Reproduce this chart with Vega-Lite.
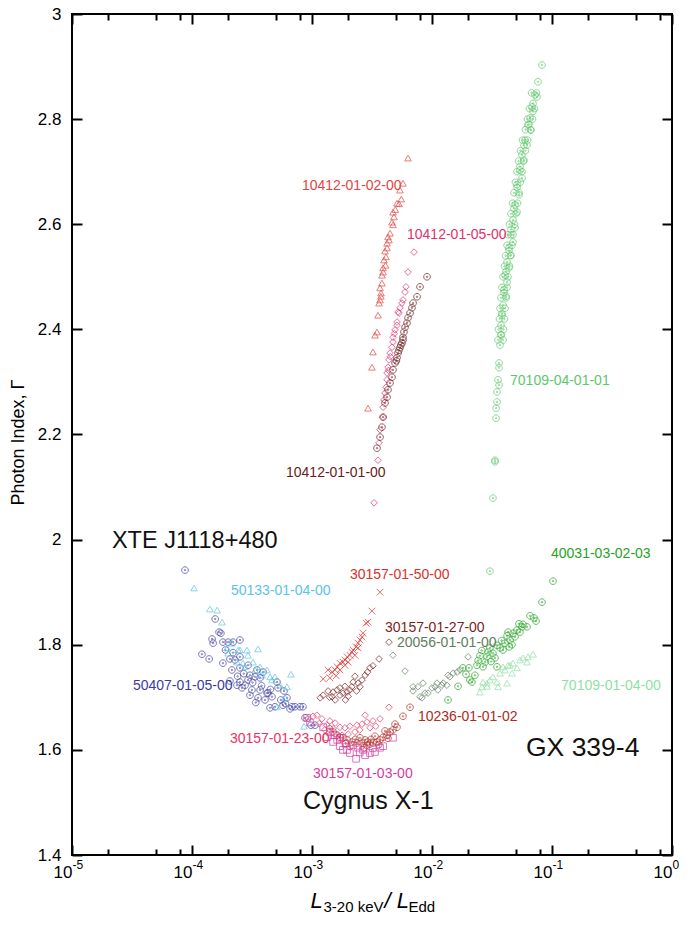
{
  "$schema": "https://vega.github.io/schema/vega-lite/v6.json",
  "width": 600,
  "height": 841,
  "autosize": {"type": "none"},
  "padding": {"left": 72, "top": 14, "right": 16, "bottom": 70},
  "config": {
    "view": {"stroke": "#000000", "strokeWidth": 2},
    "font": "Liberation Sans",
    "axis": {"labelFont": "Liberation Sans", "titleFont": "Liberation Sans", "labelColor": "#000000", "titleColor": "#000000", "tickColor": "#000000", "grid": false, "domain": false, "titleFontWeight": "normal"}
  },
  "datasets": {
    "pts": [
      {"series":"50407-01-05-00","L":8.74e-5,"G":1.942},{"series":"50407-01-05-00","L":1.56e-4,"G":1.849},{"series":"50407-01-05-00","L":1.68e-4,"G":1.824},{"series":"50407-01-05-00","L":1.74e-4,"G":1.822},{"series":"50407-01-05-00","L":1.47e-4,"G":1.811},{"series":"50407-01-05-00","L":1.50e-4,"G":1.803},{"series":"50407-01-05-00","L":1.81e-4,"G":1.805},{"series":"50407-01-05-00","L":2.00e-4,"G":1.805},{"series":"50407-01-05-00","L":2.20e-4,"G":1.805},{"series":"50407-01-05-00","L":2.51e-4,"G":1.809},{"series":"50407-01-05-00","L":1.21e-4,"G":1.782},{"series":"50407-01-05-00","L":1.39e-4,"G":1.773},{"series":"50407-01-05-00","L":1.81e-4,"G":1.765},{"series":"50407-01-05-00","L":2.07e-4,"G":1.773},{"series":"50407-01-05-00","L":2.51e-4,"G":1.777},{"series":"50407-01-05-00","L":2.15e-4,"G":1.752},{"series":"50407-01-05-00","L":2.51e-4,"G":1.756},{"series":"50407-01-05-00","L":2.93e-4,"G":1.761},{"series":"50407-01-05-00","L":3.48e-4,"G":1.752},{"series":"50407-01-05-00","L":2.07e-4,"G":1.731},{"series":"50407-01-05-00","L":2.37e-4,"G":1.723},{"series":"50407-01-05-00","L":2.61e-4,"G":1.718},{"series":"50407-01-05-00","L":2.51e-4,"G":1.729},{"series":"50407-01-05-00","L":3.04e-4,"G":1.704},{"series":"50407-01-05-00","L":3.55e-4,"G":1.699},{"series":"50407-01-05-00","L":3.69e-4,"G":1.714},{"series":"50407-01-05-00","L":4.22e-4,"G":1.708},{"series":"50407-01-05-00","L":4.64e-4,"G":1.701},{"series":"50407-01-05-00","L":4.47e-4,"G":1.680},{"series":"50407-01-05-00","L":4.92e-4,"G":1.682},{"series":"50407-01-05-00","L":5.73e-4,"G":1.685},{"series":"50407-01-05-00","L":6.19e-4,"G":1.699},{"series":"50407-01-05-00","L":6.56e-4,"G":1.678},{"series":"50407-01-05-00","L":7.22e-4,"G":1.682},{"series":"50407-01-05-00","L":7.94e-4,"G":1.682},{"series":"50407-01-05-00","L":8.41e-4,"G":1.682},{"series":"50407-01-05-00","L":4.30e-4,"G":1.708},{"series":"50407-01-05-00","L":3.69e-4,"G":1.737},{"series":"50407-01-05-00","L":3.91e-4,"G":1.748},{"series":"50407-01-05-00","L":3.35e-4,"G":1.739},{"series":"50407-01-05-00","L":2.93e-4,"G":1.733},{"series":"50407-01-05-00","L":2.77e-4,"G":1.723},{"series":"50407-01-05-00","L":5.11e-4,"G":1.729},{"series":"50407-01-05-00","L":5.21e-4,"G":1.718},{"series":"50407-01-05-00","L":5.84e-4,"G":1.712},{"series":"50407-01-05-00","L":6.81e-4,"G":1.682},{"series":"50407-01-05-00","L":8.74e-4,"G":1.661},{"series":"50407-01-05-00","L":9.81e-4,"G":1.647},{"series":"50407-01-05-00","L":1.06e-3,"G":1.647},{"series":"50407-01-05-00","L":3.04e-4,"G":1.742},{"series":"50407-01-05-00","L":2.28e-4,"G":1.771},{"series":"50407-01-05-00","L":3.16e-4,"G":1.714},{"series":"50407-01-05-00","L":4.06e-4,"G":1.695},{"series":"50407-01-05-00","L":2.7e-4,"G":1.745},{"series":"50407-01-05-00","L":3.2e-4,"G":1.728},{"series":"50407-01-05-00","L":3.8e-4,"G":1.722},{"series":"50407-01-05-00","L":4.5e-4,"G":1.715},{"series":"50407-01-05-00","L":2.2e-4,"G":1.785},{"series":"50407-01-05-00","L":1.9e-4,"G":1.790},{"series":"50407-01-05-00","L":5.5e-4,"G":1.695},{"series":"50407-01-05-00","L":6.0e-4,"G":1.688},{"series":"50407-01-05-00","L":3.4e-4,"G":1.690},{"series":"50407-01-05-00","L":2.4e-4,"G":1.740},
      {"series":"50133-01-04-00","L":1.04e-4,"G":1.908},{"series":"50133-01-04-00","L":1.41e-4,"G":1.868},{"series":"50133-01-04-00","L":1.62e-4,"G":1.866},{"series":"50133-01-04-00","L":1.78e-4,"G":1.843},{"series":"50133-01-04-00","L":1.96e-4,"G":1.794},{"series":"50133-01-04-00","L":2.15e-4,"G":1.803},{"series":"50133-01-04-00","L":2.51e-4,"G":1.790},{"series":"50133-01-04-00","L":2.87e-4,"G":1.790},{"series":"50133-01-04-00","L":2.93e-4,"G":1.780},{"series":"50133-01-04-00","L":3.55e-4,"G":1.792},{"series":"50133-01-04-00","L":2.37e-4,"G":1.767},{"series":"50133-01-04-00","L":2.66e-4,"G":1.765},{"series":"50133-01-04-00","L":3.22e-4,"G":1.767},{"series":"50133-01-04-00","L":3.69e-4,"G":1.758},{"series":"50133-01-04-00","L":4.22e-4,"G":1.752},{"series":"50133-01-04-00","L":4.47e-4,"G":1.739},{"series":"50133-01-04-00","L":4.92e-4,"G":1.739},{"series":"50133-01-04-00","L":5.41e-4,"G":1.723},{"series":"50133-01-04-00","L":6.19e-4,"G":1.720},{"series":"50133-01-04-00","L":6.68e-4,"G":1.744},{"series":"50133-01-04-00","L":5.96e-4,"G":1.699},{"series":"50133-01-04-00","L":5.11e-4,"G":1.682},{"series":"50133-01-04-00","L":8.58e-4,"G":1.645},{"series":"50133-01-04-00","L":2.77e-4,"G":1.758},{"series":"50133-01-04-00","L":3.35e-4,"G":1.752},{"series":"50133-01-04-00","L":3.83e-4,"G":1.742},{"series":"50133-01-04-00","L":4.64e-4,"G":1.733},{"series":"50133-01-04-00","L":2.00e-4,"G":1.784},{"series":"50133-01-04-00","L":2.42e-4,"G":1.790},
      {"series":"30157-01-50-00","L":3.69e-3,"G":1.900},{"series":"30157-01-50-00","L":3.16e-3,"G":1.864},{"series":"30157-01-50-00","L":2.93e-3,"G":1.843},{"series":"30157-01-50-00","L":2.82e-3,"G":1.841},{"series":"30157-01-50-00","L":2.66e-3,"G":1.822},{"series":"30157-01-50-00","L":2.61e-3,"G":1.815},{"series":"30157-01-50-00","L":2.51e-3,"G":1.809},{"series":"30157-01-50-00","L":2.42e-3,"G":1.803},{"series":"30157-01-50-00","L":2.33e-3,"G":1.796},{"series":"30157-01-50-00","L":2.20e-3,"G":1.790},{"series":"30157-01-50-00","L":2.15e-3,"G":1.786},{"series":"30157-01-50-00","L":2.07e-3,"G":1.780},{"series":"30157-01-50-00","L":1.96e-3,"G":1.777},{"series":"30157-01-50-00","L":1.88e-3,"G":1.771},{"series":"30157-01-50-00","L":1.81e-3,"G":1.767},{"series":"30157-01-50-00","L":1.71e-3,"G":1.765},{"series":"30157-01-50-00","L":1.62e-3,"G":1.758},{"series":"30157-01-50-00","L":1.56e-3,"G":1.752},{"series":"30157-01-50-00","L":1.47e-3,"G":1.748},{"series":"30157-01-50-00","L":1.36e-3,"G":1.752},{"series":"30157-01-50-00","L":1.41e-3,"G":1.737},{"series":"30157-01-50-00","L":1.24e-3,"G":1.735},{"series":"30157-01-50-00","L":1.71e-3,"G":1.752},{"series":"30157-01-50-00","L":1.88e-3,"G":1.761},{"series":"30157-01-50-00","L":2.00e-3,"G":1.767},{"series":"30157-01-50-00","L":2.28e-3,"G":1.780},{"series":"30157-01-50-00","L":2.42e-3,"G":1.794},{"series":"30157-01-50-00","L":1.59e-3,"G":1.741},
      {"series":"30157-01-27-00","L":4.38e-3,"G":1.805},{"series":"30157-01-27-00","L":3.62e-3,"G":1.773},{"series":"30157-01-27-00","L":3.04e-3,"G":1.756},{"series":"30157-01-27-00","L":3.22e-3,"G":1.760},{"series":"30157-01-27-00","L":2.77e-3,"G":1.742},{"series":"30157-01-27-00","L":2.61e-3,"G":1.733},{"series":"30157-01-27-00","L":2.42e-3,"G":1.727},{"series":"30157-01-27-00","L":2.51e-3,"G":1.720},{"series":"30157-01-27-00","L":2.20e-3,"G":1.729},{"series":"30157-01-27-00","L":2.15e-3,"G":1.720},{"series":"30157-01-27-00","L":2.07e-3,"G":1.714},{"series":"30157-01-27-00","L":1.96e-3,"G":1.710},{"series":"30157-01-27-00","L":1.81e-3,"G":1.708},{"series":"30157-01-27-00","L":1.71e-3,"G":1.704},{"series":"30157-01-27-00","L":1.62e-3,"G":1.714},{"series":"30157-01-27-00","L":1.50e-3,"G":1.710},{"series":"30157-01-27-00","L":1.47e-3,"G":1.701},{"series":"30157-01-27-00","L":1.56e-3,"G":1.695},{"series":"30157-01-27-00","L":1.24e-3,"G":1.704},{"series":"30157-01-27-00","L":1.17e-3,"G":1.699},{"series":"30157-01-27-00","L":2.28e-3,"G":1.740},{"series":"30157-01-27-00","L":1.88e-3,"G":1.721},{"series":"30157-01-27-00","L":1.71e-3,"G":1.718},{"series":"30157-01-27-00","L":2.00e-3,"G":1.702},{"series":"30157-01-27-00","L":1.36e-3,"G":1.712},{"series":"30157-01-27-00","L":2.9e-3,"G":1.748},{"series":"30157-01-27-00","L":2.35e-3,"G":1.712},{"series":"30157-01-27-00","L":1.9e-3,"G":1.695},{"series":"30157-01-27-00","L":1.4e-3,"G":1.700},
      {"series":"20056-01-01-00","L":4.73e-3,"G":1.780},{"series":"20056-01-01-00","L":5.96e-3,"G":1.750},{"series":"20056-01-01-00","L":6.95e-3,"G":1.720},{"series":"20056-01-01-00","L":7.64e-3,"G":1.720},{"series":"20056-01-01-00","L":8.41e-3,"G":1.727},{"series":"20056-01-01-00","L":7.94e-3,"G":1.701},{"series":"20056-01-01-00","L":8.74e-3,"G":1.708},{"series":"20056-01-01-00","L":6.95e-3,"G":1.712},{"series":"20056-01-01-00","L":1.00e-2,"G":1.718},{"series":"20056-01-01-00","L":1.06e-2,"G":1.720},{"series":"20056-01-01-00","L":1.10e-2,"G":1.727},{"series":"20056-01-01-00","L":1.24e-2,"G":1.727},{"series":"20056-01-01-00","L":1.33e-2,"G":1.723},{"series":"20056-01-01-00","L":1.36e-2,"G":1.742},{"series":"20056-01-01-00","L":1.50e-2,"G":1.746},{"series":"20056-01-01-00","L":1.71e-2,"G":1.752},{"series":"20056-01-01-00","L":1.62e-2,"G":1.748},{"series":"20056-01-01-00","L":2.00e-2,"G":1.777},{"series":"20056-01-01-00","L":1.12e-2,"G":1.714},{"series":"20056-01-01-00","L":9.26e-3,"G":1.708},{"series":"20056-01-01-00","L":8.25e-3,"G":1.699},{"series":"20056-01-01-00","L":1.41e-2,"G":1.739},{"series":"20056-01-01-00","L":1.21e-2,"G":1.723},
      {"series":"10236-01-01-02","L":6.56e-3,"G":1.681},{"series":"10236-01-01-02","L":5.73e-3,"G":1.664},{"series":"10236-01-01-02","L":5.11e-3,"G":1.643},{"series":"10236-01-01-02","L":4.73e-3,"G":1.638},{"series":"10236-01-01-02","L":4.47e-3,"G":1.634},{"series":"10236-01-01-02","L":4.22e-3,"G":1.628},{"series":"10236-01-01-02","L":3.91e-3,"G":1.624},{"series":"10236-01-01-02","L":3.69e-3,"G":1.619},{"series":"10236-01-01-02","L":3.48e-3,"G":1.615},{"series":"10236-01-01-02","L":3.22e-3,"G":1.613},{"series":"10236-01-01-02","L":3.04e-3,"G":1.611},{"series":"10236-01-01-02","L":2.87e-3,"G":1.609},{"series":"10236-01-01-02","L":2.61e-3,"G":1.613},{"series":"10236-01-01-02","L":2.37e-3,"G":1.613},{"series":"10236-01-01-02","L":2.15e-3,"G":1.615},{"series":"10236-01-01-02","L":1.96e-3,"G":1.619},{"series":"10236-01-01-02","L":1.81e-3,"G":1.623},{"series":"10236-01-01-02","L":1.71e-3,"G":1.624},{"series":"10236-01-01-02","L":1.62e-3,"G":1.628},{"series":"10236-01-01-02","L":1.50e-3,"G":1.634},{"series":"10236-01-01-02","L":2.51e-3,"G":1.623},{"series":"10236-01-01-02","L":3.35e-3,"G":1.626},{"series":"10236-01-01-02","L":4.06e-3,"G":1.636},{"series":"10236-01-01-02","L":2.77e-3,"G":1.619},{"series":"10236-01-01-02","L":2.07e-3,"G":1.607},{"series":"10236-01-01-02","L":4.92e-3,"G":1.649},{"series":"10236-01-01-02","L":2.3e-3,"G":1.620},{"series":"10236-01-01-02","L":2.9e-3,"G":1.615},{"series":"10236-01-01-02","L":3.6e-3,"G":1.610},{"series":"10236-01-01-02","L":4.3e-3,"G":1.622},{"series":"10236-01-01-02","L":1.9e-3,"G":1.612},{"series":"10236-01-01-02","L":2.7e-3,"G":1.604},{"series":"10236-01-01-02","L":3.1e-3,"G":1.620},{"series":"10236-01-01-02","L":1.4e-3,"G":1.640},
      {"series":"30157-01-23-00","L":4.38e-3,"G":1.681},{"series":"30157-01-23-00","L":3.69e-3,"G":1.659},{"series":"30157-01-23-00","L":3.22e-3,"G":1.655},{"series":"30157-01-23-00","L":2.87e-3,"G":1.653},{"series":"30157-01-23-00","L":2.61e-3,"G":1.649},{"series":"30157-01-23-00","L":2.37e-3,"G":1.647},{"series":"30157-01-23-00","L":2.07e-3,"G":1.645},{"series":"30157-01-23-00","L":1.88e-3,"G":1.642},{"series":"30157-01-23-00","L":1.71e-3,"G":1.643},{"series":"30157-01-23-00","L":1.56e-3,"G":1.651},{"series":"30157-01-23-00","L":1.41e-3,"G":1.655},{"series":"30157-01-23-00","L":1.33e-3,"G":1.647},{"series":"30157-01-23-00","L":1.21e-3,"G":1.659},{"series":"30157-01-23-00","L":1.10e-3,"G":1.666},{"series":"30157-01-23-00","L":1.02e-3,"G":1.664},{"series":"30157-01-23-00","L":9.26e-4,"G":1.659},{"series":"30157-01-23-00","L":1.28e-3,"G":1.638},{"series":"30157-01-23-00","L":2.28e-3,"G":1.634},{"series":"30157-01-23-00","L":3.04e-3,"G":1.642},{"series":"30157-01-23-00","L":1.78e-3,"G":1.628},{"series":"30157-01-23-00","L":2.77e-3,"G":1.666},{"series":"30157-01-23-00","L":1.5e-3,"G":1.640},{"series":"30157-01-23-00","L":2.0e-3,"G":1.630},{"series":"30157-01-23-00","L":2.5e-3,"G":1.638},{"series":"30157-01-23-00","L":3.4e-3,"G":1.645},{"series":"30157-01-23-00","L":1.15e-3,"G":1.650},
      {"series":"30157-01-03-00","L":9.09e-4,"G":1.661},{"series":"30157-01-03-00","L":9.62e-4,"G":1.652},{"series":"30157-01-03-00","L":1.24e-3,"G":1.643},{"series":"30157-01-03-00","L":1.33e-3,"G":1.624},{"series":"30157-01-03-00","L":1.41e-3,"G":1.634},{"series":"30157-01-03-00","L":1.50e-3,"G":1.615},{"series":"30157-01-03-00","L":1.62e-3,"G":1.619},{"series":"30157-01-03-00","L":1.71e-3,"G":1.607},{"series":"30157-01-03-00","L":1.81e-3,"G":1.600},{"series":"30157-01-03-00","L":1.96e-3,"G":1.600},{"series":"30157-01-03-00","L":2.07e-3,"G":1.594},{"series":"30157-01-03-00","L":2.33e-3,"G":1.583},{"series":"30157-01-03-00","L":2.66e-3,"G":1.600},{"series":"30157-01-03-00","L":2.77e-3,"G":1.590},{"series":"30157-01-03-00","L":3.04e-3,"G":1.594},{"series":"30157-01-03-00","L":3.35e-3,"G":1.596},{"series":"30157-01-03-00","L":3.69e-3,"G":1.604},{"series":"30157-01-03-00","L":3.91e-3,"G":1.607},{"series":"30157-01-03-00","L":4.73e-3,"G":1.623},{"series":"30157-01-03-00","L":1.71e-3,"G":1.623},{"series":"30157-01-03-00","L":2.20e-3,"G":1.609},{"series":"30157-01-03-00","L":2.42e-3,"G":1.604},{"series":"30157-01-03-00","L":1.9e-3,"G":1.612},{"series":"30157-01-03-00","L":2.5e-3,"G":1.595},{"series":"30157-01-03-00","L":3.2e-3,"G":1.603},{"series":"30157-01-03-00","L":1.55e-3,"G":1.628},
      {"series":"10412-01-02-00","L":6.31e-3,"G":2.726},{"series":"10412-01-02-00","L":5.73e-3,"G":2.678},{"series":"10412-01-02-00","L":5.41e-3,"G":2.665},{"series":"10412-01-02-00","L":5.11e-3,"G":2.640},{"series":"10412-01-02-00","L":5.31e-3,"G":2.639},{"series":"10412-01-02-00","L":4.73e-3,"G":2.623},{"series":"10412-01-02-00","L":4.82e-3,"G":2.614},{"series":"10412-01-02-00","L":4.64e-3,"G":2.604},{"series":"10412-01-02-00","L":4.73e-3,"G":2.599},{"series":"10412-01-02-00","L":4.47e-3,"G":2.583},{"series":"10412-01-02-00","L":4.30e-3,"G":2.576},{"series":"10412-01-02-00","L":4.38e-3,"G":2.570},{"series":"10412-01-02-00","L":4.22e-3,"G":2.564},{"series":"10412-01-02-00","L":4.22e-3,"G":2.555},{"series":"10412-01-02-00","L":4.06e-3,"G":2.549},{"series":"10412-01-02-00","L":4.14e-3,"G":2.538},{"series":"10412-01-02-00","L":3.98e-3,"G":2.532},{"series":"10412-01-02-00","L":3.91e-3,"G":2.517},{"series":"10412-01-02-00","L":3.91e-3,"G":2.509},{"series":"10412-01-02-00","L":3.83e-3,"G":2.503},{"series":"10412-01-02-00","L":3.83e-3,"G":2.488},{"series":"10412-01-02-00","L":3.69e-3,"G":2.479},{"series":"10412-01-02-00","L":3.76e-3,"G":2.469},{"series":"10412-01-02-00","L":3.69e-3,"G":2.456},{"series":"10412-01-02-00","L":3.62e-3,"G":2.450},{"series":"10412-01-02-00","L":3.55e-3,"G":2.427},{"series":"10412-01-02-00","L":3.48e-3,"G":2.395},{"series":"10412-01-02-00","L":3.35e-3,"G":2.389},{"series":"10412-01-02-00","L":3.22e-3,"G":2.357},{"series":"10412-01-02-00","L":3.16e-3,"G":2.328},{"series":"10412-01-02-00","L":2.93e-3,"G":2.250},{"series":"10412-01-02-00","L":5.55e-3,"G":2.648},{"series":"10412-01-02-00","L":4.95e-3,"G":2.628},{"series":"10412-01-02-00","L":4.1e-3,"G":2.522},{"series":"10412-01-02-00","L":3.75e-3,"G":2.463},
      {"series":"10412-01-05-00","L":7.08e-3,"G":2.547},{"series":"10412-01-05-00","L":6.31e-3,"G":2.509},{"series":"10412-01-05-00","L":6.07e-3,"G":2.481},{"series":"10412-01-05-00","L":5.96e-3,"G":2.471},{"series":"10412-01-05-00","L":5.73e-3,"G":2.456},{"series":"10412-01-05-00","L":5.62e-3,"G":2.450},{"series":"10412-01-05-00","L":5.41e-3,"G":2.441},{"series":"10412-01-05-00","L":5.21e-3,"G":2.433},{"series":"10412-01-05-00","L":5.31e-3,"G":2.431},{"series":"10412-01-05-00","L":5.11e-3,"G":2.414},{"series":"10412-01-05-00","L":5.11e-3,"G":2.408},{"series":"10412-01-05-00","L":4.92e-3,"G":2.399},{"series":"10412-01-05-00","L":4.73e-3,"G":2.385},{"series":"10412-01-05-00","L":4.73e-3,"G":2.376},{"series":"10412-01-05-00","L":4.64e-3,"G":2.366},{"series":"10412-01-05-00","L":4.47e-3,"G":2.355},{"series":"10412-01-05-00","L":4.38e-3,"G":2.342},{"series":"10412-01-05-00","L":4.30e-3,"G":2.328},{"series":"10412-01-05-00","L":4.22e-3,"G":2.317},{"series":"10412-01-05-00","L":4.22e-3,"G":2.304},{"series":"10412-01-05-00","L":4.14e-3,"G":2.290},{"series":"10412-01-05-00","L":4.06e-3,"G":2.279},{"series":"10412-01-05-00","L":3.98e-3,"G":2.266},{"series":"10412-01-05-00","L":3.91e-3,"G":2.252},{"series":"10412-01-05-00","L":3.91e-3,"G":2.233},{"series":"10412-01-05-00","L":3.69e-3,"G":2.209},{"series":"10412-01-05-00","L":3.62e-3,"G":2.184},{"series":"10412-01-05-00","L":3.55e-3,"G":2.151},{"series":"10412-01-05-00","L":3.29e-3,"G":2.070},{"series":"10412-01-05-00","L":4.5e-3,"G":2.348},{"series":"10412-01-05-00","L":4.35e-3,"G":2.322},{"series":"10412-01-05-00","L":4.85e-3,"G":2.392},
      {"series":"10412-01-01-00","L":9.09e-3,"G":2.500},{"series":"10412-01-01-00","L":7.94e-3,"G":2.481},{"series":"10412-01-01-00","L":7.50e-3,"G":2.462},{"series":"10412-01-01-00","L":6.95e-3,"G":2.450},{"series":"10412-01-01-00","L":6.81e-3,"G":2.441},{"series":"10412-01-01-00","L":6.56e-3,"G":2.431},{"series":"10412-01-01-00","L":6.31e-3,"G":2.422},{"series":"10412-01-01-00","L":6.19e-3,"G":2.412},{"series":"10412-01-01-00","L":5.96e-3,"G":2.404},{"series":"10412-01-01-00","L":5.84e-3,"G":2.395},{"series":"10412-01-01-00","L":5.73e-3,"G":2.385},{"series":"10412-01-01-00","L":5.73e-3,"G":2.380},{"series":"10412-01-01-00","L":5.62e-3,"G":2.374},{"series":"10412-01-01-00","L":5.41e-3,"G":2.365},{"series":"10412-01-01-00","L":5.21e-3,"G":2.355},{"series":"10412-01-01-00","L":5.11e-3,"G":2.346},{"series":"10412-01-01-00","L":4.92e-3,"G":2.336},{"series":"10412-01-01-00","L":4.73e-3,"G":2.323},{"series":"10412-01-01-00","L":4.64e-3,"G":2.309},{"series":"10412-01-01-00","L":4.47e-3,"G":2.298},{"series":"10412-01-01-00","L":4.30e-3,"G":2.285},{"series":"10412-01-01-00","L":4.22e-3,"G":2.271},{"series":"10412-01-01-00","L":4.06e-3,"G":2.260},{"series":"10412-01-01-00","L":3.91e-3,"G":2.233},{"series":"10412-01-01-00","L":3.83e-3,"G":2.214},{"series":"10412-01-01-00","L":3.69e-3,"G":2.195},{"series":"10412-01-01-00","L":3.48e-3,"G":2.174},{"series":"10412-01-01-00","L":5.5e-3,"G":2.370},{"series":"10412-01-01-00","L":5.3e-3,"G":2.360},{"series":"10412-01-01-00","L":5.05e-3,"G":2.340},
      {"series":"70109-04-01-01","L":8.25e-2,"G":2.903},{"series":"70109-04-01-01","L":7.64e-2,"G":2.871},{"series":"70109-04-01-01","L":7.22e-2,"G":2.846},{"series":"70109-04-01-01","L":7.50e-2,"G":2.842},{"series":"70109-04-01-01","L":6.81e-2,"G":2.823},{"series":"70109-04-01-01","L":6.95e-2,"G":2.815},{"series":"70109-04-01-01","L":6.56e-2,"G":2.802},{"series":"70109-04-01-01","L":6.31e-2,"G":2.789},{"series":"70109-04-01-01","L":6.68e-2,"G":2.779},{"series":"70109-04-01-01","L":5.96e-2,"G":2.760},{"series":"70109-04-01-01","L":6.19e-2,"G":2.751},{"series":"70109-04-01-01","L":5.62e-2,"G":2.732},{"series":"70109-04-01-01","L":5.84e-2,"G":2.722},{"series":"70109-04-01-01","L":5.41e-2,"G":2.703},{"series":"70109-04-01-01","L":5.62e-2,"G":2.688},{"series":"70109-04-01-01","L":5.11e-2,"G":2.675},{"series":"70109-04-01-01","L":5.31e-2,"G":2.656},{"series":"70109-04-01-01","L":4.92e-2,"G":2.637},{"series":"70109-04-01-01","L":5.11e-2,"G":2.623},{"series":"70109-04-01-01","L":4.73e-2,"G":2.608},{"series":"70109-04-01-01","L":4.92e-2,"G":2.593},{"series":"70109-04-01-01","L":4.55e-2,"G":2.580},{"series":"70109-04-01-01","L":4.73e-2,"G":2.566},{"series":"70109-04-01-01","L":4.38e-2,"G":2.555},{"series":"70109-04-01-01","L":4.55e-2,"G":2.541},{"series":"70109-04-01-01","L":4.22e-2,"G":2.528},{"series":"70109-04-01-01","L":4.38e-2,"G":2.517},{"series":"70109-04-01-01","L":4.06e-2,"G":2.503},{"series":"70109-04-01-01","L":4.22e-2,"G":2.490},{"series":"70109-04-01-01","L":3.98e-2,"G":2.475},{"series":"70109-04-01-01","L":4.14e-2,"G":2.463},{"series":"70109-04-01-01","L":3.91e-2,"G":2.446},{"series":"70109-04-01-01","L":3.83e-2,"G":2.427},{"series":"70109-04-01-01","L":3.76e-2,"G":2.408},{"series":"70109-04-01-01","L":3.76e-2,"G":2.389},{"series":"70109-04-01-01","L":3.69e-2,"G":2.370},{"series":"70109-04-01-01","L":3.62e-2,"G":2.336},{"series":"70109-04-01-01","L":3.62e-2,"G":2.327},{"series":"70109-04-01-01","L":3.55e-2,"G":2.304},{"series":"70109-04-01-01","L":3.62e-2,"G":2.294},{"series":"70109-04-01-01","L":3.48e-2,"G":2.281},{"series":"70109-04-01-01","L":3.48e-2,"G":2.262},{"series":"70109-04-01-01","L":3.42e-2,"G":2.250},{"series":"70109-04-01-01","L":3.42e-2,"G":2.231},{"series":"70109-04-01-01","L":3.35e-2,"G":2.151},{"series":"70109-04-01-01","L":3.35e-2,"G":2.148},{"series":"70109-04-01-01","L":3.22e-2,"G":2.079},{"series":"70109-04-01-01","L":3.04e-2,"G":1.940},
      {"series":"70109-04-01-01","L":6.75e-2,"G":2.85},{"series":"70109-04-01-01","L":7.43e-2,"G":2.85},{"series":"70109-04-01-01","L":6.49e-2,"G":2.82},{"series":"70109-04-01-01","L":7.15e-2,"G":2.82},{"series":"70109-04-01-01","L":6.25e-2,"G":2.80},{"series":"70109-04-01-01","L":6.88e-2,"G":2.80},{"series":"70109-04-01-01","L":6.01e-2,"G":2.78},{"series":"70109-04-01-01","L":6.62e-2,"G":2.78},{"series":"70109-04-01-01","L":5.68e-2,"G":2.76},{"series":"70109-04-01-01","L":6.25e-2,"G":2.76},{"series":"70109-04-01-01","L":5.46e-2,"G":2.74},{"series":"70109-04-01-01","L":6.01e-2,"G":2.74},{"series":"70109-04-01-01","L":5.26e-2,"G":2.72},{"series":"70109-04-01-01","L":5.79e-2,"G":2.72},{"series":"70109-04-01-01","L":5.11e-2,"G":2.70},{"series":"70109-04-01-01","L":5.62e-2,"G":2.70},{"series":"70109-04-01-01","L":4.96e-2,"G":2.68},{"series":"70109-04-01-01","L":5.46e-2,"G":2.68},{"series":"70109-04-01-01","L":4.82e-2,"G":2.66},{"series":"70109-04-01-01","L":5.31e-2,"G":2.66},{"series":"70109-04-01-01","L":4.69e-2,"G":2.64},{"series":"70109-04-01-01","L":5.16e-2,"G":2.64},{"series":"70109-04-01-01","L":4.55e-2,"G":2.62},{"series":"70109-04-01-01","L":5.01e-2,"G":2.62},{"series":"70109-04-01-01","L":4.42e-2,"G":2.60},{"series":"70109-04-01-01","L":4.87e-2,"G":2.60},{"series":"70109-04-01-01","L":4.30e-2,"G":2.58},{"series":"70109-04-01-01","L":4.73e-2,"G":2.58},{"series":"70109-04-01-01","L":4.22e-2,"G":2.56},{"series":"70109-04-01-01","L":4.64e-2,"G":2.56},{"series":"70109-04-01-01","L":4.10e-2,"G":2.54},{"series":"70109-04-01-01","L":4.51e-2,"G":2.54},{"series":"70109-04-01-01","L":4.02e-2,"G":2.52},{"series":"70109-04-01-01","L":4.42e-2,"G":2.52},{"series":"70109-04-01-01","L":3.91e-2,"G":2.50},{"series":"70109-04-01-01","L":4.30e-2,"G":2.50},{"series":"70109-04-01-01","L":3.83e-2,"G":2.48},{"series":"70109-04-01-01","L":4.22e-2,"G":2.48},{"series":"70109-04-01-01","L":3.76e-2,"G":2.46},{"series":"70109-04-01-01","L":4.14e-2,"G":2.46},{"series":"70109-04-01-01","L":3.69e-2,"G":2.44},{"series":"70109-04-01-01","L":4.06e-2,"G":2.44},{"series":"70109-04-01-01","L":3.65e-2,"G":2.42},{"series":"70109-04-01-01","L":4.02e-2,"G":2.42},{"series":"70109-04-01-01","L":3.58e-2,"G":2.40},{"series":"70109-04-01-01","L":3.94e-2,"G":2.40},{"series":"70109-04-01-01","L":3.55e-2,"G":2.38},{"series":"70109-04-01-01","L":3.91e-2,"G":2.38},
      {"series":"70109-04-01-01","L":6.95e-2,"G":2.83},{"series":"70109-04-01-01","L":6.43e-2,"G":2.79},{"series":"70109-04-01-01","L":5.84e-2,"G":2.75},{"series":"70109-04-01-01","L":5.41e-2,"G":2.71},{"series":"70109-04-01-01","L":5.11e-2,"G":2.67},{"series":"70109-04-01-01","L":4.82e-2,"G":2.63},{"series":"70109-04-01-01","L":4.55e-2,"G":2.59},{"series":"70109-04-01-01","L":4.38e-2,"G":2.55},{"series":"70109-04-01-01","L":4.14e-2,"G":2.51},{"series":"70109-04-01-01","L":3.98e-2,"G":2.47},{"series":"70109-04-01-01","L":3.83e-2,"G":2.43},{"series":"70109-04-01-01","L":3.76e-2,"G":2.39},
      {"series":"40031-03-02-03","L":1.019e-1,"G":1.921},{"series":"40031-03-02-03","L":8.25e-2,"G":1.881},{"series":"40031-03-02-03","L":6.56e-2,"G":1.855},{"series":"40031-03-02-03","L":7.08e-2,"G":1.851},{"series":"40031-03-02-03","L":7.36e-2,"G":1.845},{"series":"40031-03-02-03","L":5.73e-2,"G":1.839},{"series":"40031-03-02-03","L":6.19e-2,"G":1.834},{"series":"40031-03-02-03","L":5.62e-2,"G":1.834},{"series":"40031-03-02-03","L":5.11e-2,"G":1.828},{"series":"40031-03-02-03","L":4.30e-2,"G":1.824},{"series":"40031-03-02-03","L":4.73e-2,"G":1.822},{"series":"40031-03-02-03","L":5.41e-2,"G":1.824},{"series":"40031-03-02-03","L":4.92e-2,"G":1.815},{"series":"40031-03-02-03","L":4.47e-2,"G":1.809},{"series":"40031-03-02-03","L":4.06e-2,"G":1.803},{"series":"40031-03-02-03","L":3.69e-2,"G":1.794},{"series":"40031-03-02-03","L":3.22e-2,"G":1.784},{"series":"40031-03-02-03","L":2.87e-2,"G":1.777},{"series":"40031-03-02-03","L":2.51e-2,"G":1.779},{"series":"40031-03-02-03","L":3.48e-2,"G":1.799},{"series":"40031-03-02-03","L":3.91e-2,"G":1.790},{"series":"40031-03-02-03","L":3.04e-2,"G":1.794},{"series":"40031-03-02-03","L":3.35e-2,"G":1.775},{"series":"40031-03-02-03","L":2.77e-2,"G":1.767},{"series":"40031-03-02-03","L":2.37e-2,"G":1.761},{"series":"40031-03-02-03","L":2.66e-2,"G":1.758},{"series":"40031-03-02-03","L":3.48e-2,"G":1.758},{"series":"40031-03-02-03","L":2.03e-2,"G":1.756},{"series":"40031-03-02-03","L":1.81e-2,"G":1.756},{"series":"40031-03-02-03","L":1.92e-2,"G":1.744},{"series":"40031-03-02-03","L":2.28e-2,"G":1.742},{"series":"40031-03-02-03","L":2.15e-2,"G":1.729},{"series":"40031-03-02-03","L":2.07e-2,"G":1.733},{"series":"40031-03-02-03","L":1.65e-2,"G":1.721},{"series":"40031-03-02-03","L":1.36e-2,"G":1.695},{"series":"40031-03-02-03","L":4.22e-2,"G":1.817},{"series":"40031-03-02-03","L":4.64e-2,"G":1.800},{"series":"40031-03-02-03","L":2.93e-2,"G":1.786},{"series":"40031-03-02-03","L":2.42e-2,"G":1.770},{"series":"40031-03-02-03","L":3.8e-2,"G":1.808},{"series":"40031-03-02-03","L":4.4e-2,"G":1.796},{"series":"40031-03-02-03","L":3.1e-2,"G":1.768},{"series":"40031-03-02-03","L":5.3e-2,"G":1.840},{"series":"40031-03-02-03","L":2.6e-2,"G":1.789},
      {"series":"70109-01-04-00","L":6.95e-2,"G":1.782},{"series":"70109-01-04-00","L":6.31e-2,"G":1.777},{"series":"70109-01-04-00","L":5.73e-2,"G":1.775},{"series":"70109-01-04-00","L":6.19e-2,"G":1.767},{"series":"70109-01-04-00","L":4.73e-2,"G":1.765},{"series":"70109-01-04-00","L":4.30e-2,"G":1.761},{"series":"70109-01-04-00","L":5.11e-2,"G":1.756},{"series":"70109-01-04-00","L":4.06e-2,"G":1.752},{"series":"70109-01-04-00","L":4.64e-2,"G":1.746},{"series":"70109-01-04-00","L":3.69e-2,"G":1.746},{"series":"70109-01-04-00","L":3.22e-2,"G":1.739},{"series":"70109-01-04-00","L":3.04e-2,"G":1.733},{"series":"70109-01-04-00","L":3.48e-2,"G":1.729},{"series":"70109-01-04-00","L":2.87e-2,"G":1.727},{"series":"70109-01-04-00","L":2.61e-2,"G":1.720},{"series":"70109-01-04-00","L":2.51e-2,"G":1.710},{"series":"70109-01-04-00","L":3.55e-2,"G":1.720},{"series":"70109-01-04-00","L":4.22e-2,"G":1.727},{"series":"70109-01-04-00","L":5.41e-2,"G":1.771},{"series":"70109-01-04-00","L":3.91e-2,"G":1.758},{"series":"70109-01-04-00","L":4.47e-2,"G":1.761},{"series":"70109-01-04-00","L":2.66e-2,"G":1.729},{"series":"70109-01-04-00","L":2.87e-2,"G":1.721}
    ],
    "labels": [
      {"series":"10412-01-02-00","L":8.25e-4,"G":2.673},
      {"series":"10412-01-05-00","L":6.19e-3,"G":2.580},
      {"series":"70109-04-01-01","L":4.47e-2,"G":2.302},
      {"series":"10412-01-01-00","L":6.07e-4,"G":2.127},
      {"series":"40031-03-02-03","L":9.81e-2,"G":1.973},
      {"series":"50133-01-04-00","L":2.11e-4,"G":1.902},
      {"series":"30157-01-50-00","L":2.07e-3,"G":1.933},
      {"series":"30157-01-27-00","L":4.06e-3,"G":1.832},
      {"series":"20056-01-01-00","L":5.11e-3,"G":1.803},
      {"series":"70109-01-04-00","L":1.19e-1,"G":1.721},
      {"series":"50407-01-05-00","L":3.22e-5,"G":1.721},
      {"series":"10236-01-01-02","L":7.64e-3,"G":1.662},
      {"series":"30157-01-23-00","L":2.07e-4,"G":1.621},
      {"series":"30157-01-03-00","L":1.02e-3,"G":1.554}
    ],
    "sources": [
      {"name":"XTE J1118+480","L":2.15e-5,"G":1.997},
      {"name":"Cygnus X-1","L":8.41e-4,"G":1.503},
      {"name":"GX 339-4","L":6.07e-2,"G":1.604}
    ]
  },
  "resolve": {"axis": {"x": "independent", "y": "independent"}},
  "layer": [
    {
      "data": {"name": "pts"},
      "transform": [{"filter": {"field": "series", "oneOf": ["50407-01-05-00", "50133-01-04-00"]}}],
      "mark": {"type": "point", "filled": false, "strokeWidth": 1, "size": 44},
      "encoding": {
        "x": {"field": "L", "type": "quantitative", "scale": {"type": "log", "domain": [0.00001, 1], "nice": false},
          "axis": {"orient": "bottom", "values": [0.00001, 0.0001, 0.001, 0.01, 0.1, 1], "labelExpr": "'10'", "ticks": false, "labelFontSize": 17, "labelAlign": "right", "labelDx": 5, "labelPadding": 9, "labelFlush": false, "labelOverlap": false,
            "title": "L", "titleFontStyle": "italic", "titleFontSize": 22, "titleX": 238, "titleY": 52, "titleAlign": "left", "titleBaseline": "alphabetic"}},
        "y": {"field": "G", "type": "quantitative", "scale": {"domain": [1.4, 3], "nice": false, "zero": false},
          "axis": {"orient": "left", "values": [1.4, 1.6, 1.8, 2, 2.2, 2.4, 2.6, 2.8, 3], "format": "~g", "ticks": false, "labelFontSize": 17, "labelPadding": 11, "labelFlush": false, "labelOverlap": false,
            "title": "Photon Index, Γ", "titleFontSize": 18, "titleAngle": -90, "titleX": -54, "titleY": 428, "titleAlign": "center", "titleBaseline": "middle"}},
        "color": {"field": "series", "type": "nominal", "legend": null,
          "scale": {"domain": ["50407-01-05-00","50133-01-04-00","30157-01-50-00","30157-01-27-00","20056-01-01-00","10236-01-01-02","30157-01-23-00","30157-01-03-00","10412-01-02-00","10412-01-05-00","10412-01-01-00","70109-04-01-01","40031-03-02-03","70109-01-04-00"],
            "range": ["#3b3b9e","#5bc3e6","#d9302a","#7b1e1e","#5e7d5e","#b02a22","#e63462","#d43c9f","#e4443f","#e3306c","#6a1a1a","#5dc86b","#1fa31f","#8fdfa4"]}},
        "shape": {"field": "series", "type": "nominal", "legend": null,
          "scale": {"domain": ["50407-01-05-00","50133-01-04-00","30157-01-50-00","30157-01-27-00","20056-01-01-00","10236-01-01-02","30157-01-23-00","30157-01-03-00","10412-01-02-00","10412-01-05-00","10412-01-01-00","70109-04-01-01","40031-03-02-03","70109-01-04-00"],
            "range": ["M1,0A1,1,0,1,1,-1,0A1,1,0,1,1,1,0ZM0.22,0A0.22,0.22,0,1,1,-0.22,0A0.22,0.22,0,1,1,0.22,0Z","triangle-up","M-1,-1L1,1M-1,1L1,-1","diamond","diamond","M1,0A1,1,0,1,1,-1,0A1,1,0,1,1,1,0ZM0.22,0A0.22,0.22,0,1,1,-0.22,0A0.22,0.22,0,1,1,0.22,0Z","diamond","square","triangle-up","diamond","M1,0A1,1,0,1,1,-1,0A1,1,0,1,1,1,0ZM0.22,0A0.22,0.22,0,1,1,-0.22,0A0.22,0.22,0,1,1,0.22,0Z","M1,0A1,1,0,1,1,-1,0A1,1,0,1,1,1,0ZM0.22,0A0.22,0.22,0,1,1,-0.22,0A0.22,0.22,0,1,1,0.22,0Z","M1,0A1,1,0,1,1,-1,0A1,1,0,1,1,1,0ZM0.22,0A0.22,0.22,0,1,1,-0.22,0A0.22,0.22,0,1,1,0.22,0Z","triangle-up"]}}
      }
    },
    {
      "data": {"name": "pts"},
      "transform": [{"filter": {"field": "series", "oneOf": ["30157-01-50-00","30157-01-27-00","20056-01-01-00","10236-01-01-02","30157-01-23-00","30157-01-03-00"]}}],
      "mark": {"type": "point", "filled": false, "strokeWidth": 1, "size": 44},
      "encoding": {
        "x": {"field": "L", "type": "quantitative", "scale": {"type": "log", "domain": [0.00001, 1], "nice": false},
          "axis": {"orient": "bottom", "values": [0.00001, 0.0001, 0.001, 0.01, 0.1, 1], "labelExpr": "'' + round(log(datum.value) / LN10)", "ticks": false, "labelFontSize": 12, "labelAlign": "left", "labelDx": 5, "labelPadding": 4, "labelFlush": false, "labelOverlap": false,
            "title": "3-20 keV", "titleFontSize": 15, "titleX": 251, "titleY": 56, "titleAlign": "left", "titleBaseline": "alphabetic"}},
        "y": {"field": "G", "type": "quantitative", "scale": {"domain": [1.4, 3], "nice": false, "zero": false},
          "axis": {"orient": "left", "offset": -10, "values": [1.4, 1.6, 1.8, 2, 2.2, 2.4, 2.6, 2.8, 3], "labels": false, "ticks": true, "tickSize": 10, "tickWidth": 2, "title": null}},
        "color": {"field": "series", "type": "nominal", "legend": null},
        "shape": {"field": "series", "type": "nominal", "legend": null}
      }
    },
    {
      "data": {"name": "pts"},
      "transform": [{"filter": {"field": "series", "oneOf": ["10412-01-02-00","10412-01-05-00","10412-01-01-00"]}}],
      "mark": {"type": "point", "filled": false, "strokeWidth": 1, "size": 44},
      "encoding": {
        "x": {"field": "L", "type": "quantitative", "scale": {"type": "log", "domain": [0.00001, 1], "nice": false},
          "axis": {"orient": "bottom", "offset": -10, "values": [0.00001, 0.0001, 0.001, 0.01, 0.1, 1], "labels": false, "ticks": true, "tickSize": 10, "tickWidth": 2,
            "title": "/ L", "titleFontStyle": "italic", "titleFontSize": 22, "titleX": 312, "titleY": 62, "titleAlign": "left", "titleBaseline": "alphabetic"}},
        "y": {"field": "G", "type": "quantitative", "scale": {"domain": [1.4, 3], "nice": false, "zero": false},
          "axis": {"orient": "right", "offset": -10, "values": [1.4, 1.6, 1.8, 2, 2.2, 2.4, 2.6, 2.8, 3], "labels": false, "ticks": true, "tickSize": 10, "tickWidth": 2, "title": null}},
        "color": {"field": "series", "type": "nominal", "legend": null},
        "shape": {"field": "series", "type": "nominal", "legend": null}
      }
    },
    {
      "data": {"name": "pts"},
      "transform": [{"filter": {"field": "series", "oneOf": ["70109-04-01-01","40031-03-02-03","70109-01-04-00"]}}],
      "mark": {"type": "point", "filled": false, "strokeWidth": 1, "size": 44},
      "encoding": {
        "x": {"field": "L", "type": "quantitative", "scale": {"type": "log", "domain": [0.00001, 1], "nice": false},
          "axis": {"orient": "bottom", "offset": -6, "values": [0.00002,0.00005,0.00008,0.0002,0.0005,0.0008,0.002,0.005,0.008,0.02,0.05,0.08,0.2,0.5,0.8], "labels": false, "ticks": true, "tickSize": 6, "tickWidth": 2,
            "title": "Edd", "titleFontSize": 15, "titleX": 336, "titleY": 62, "titleAlign": "left", "titleBaseline": "alphabetic"}},
        "y": {"field": "G", "type": "quantitative", "scale": {"domain": [1.4, 3], "nice": false, "zero": false}, "axis": null},
        "color": {"field": "series", "type": "nominal", "legend": null},
        "shape": {"field": "series", "type": "nominal", "legend": null}
      }
    },
    {
      "data": {"name": "labels"},
      "mark": {"type": "text", "align": "left", "baseline": "middle", "fontSize": 14, "font": "Liberation Sans"},
      "encoding": {
        "x": {"field": "L", "type": "quantitative", "scale": {"type": "log", "domain": [0.00001, 1], "nice": false},
          "axis": {"orient": "top", "offset": -10, "values": [0.00001, 0.0001, 0.001, 0.01, 0.1, 1], "labels": false, "ticks": true, "tickSize": 10, "tickWidth": 2, "title": null}},
        "y": {"field": "G", "type": "quantitative", "scale": {"domain": [1.4, 3], "nice": false, "zero": false}, "axis": null},
        "text": {"field": "series", "type": "nominal"},
        "color": {"field": "series", "type": "nominal", "legend": null}
      }
    },
    {
      "data": {"name": "sources"},
      "mark": {"type": "text", "align": "left", "baseline": "middle", "font": "Liberation Sans", "color": "#111111"},
      "encoding": {
        "x": {"field": "L", "type": "quantitative", "scale": {"type": "log", "domain": [0.00001, 1], "nice": false},
          "axis": {"orient": "top", "offset": -6, "values": [0.00002,0.00005,0.00008,0.0002,0.0005,0.0008,0.002,0.005,0.008,0.02,0.05,0.08,0.2,0.5,0.8], "labels": false, "ticks": true, "tickSize": 6, "tickWidth": 2, "title": null}},
        "y": {"field": "G", "type": "quantitative", "scale": {"domain": [1.4, 3], "nice": false, "zero": false}, "axis": null},
        "text": {"field": "name", "type": "nominal"},
        "size": {"field": "name", "type": "nominal", "legend": null, "scale": {"domain": ["XTE J1118+480", "Cygnus X-1", "GX 339-4"], "range": [23.5, 26.5, 26.5]}}
      }
    }
  ]
}
